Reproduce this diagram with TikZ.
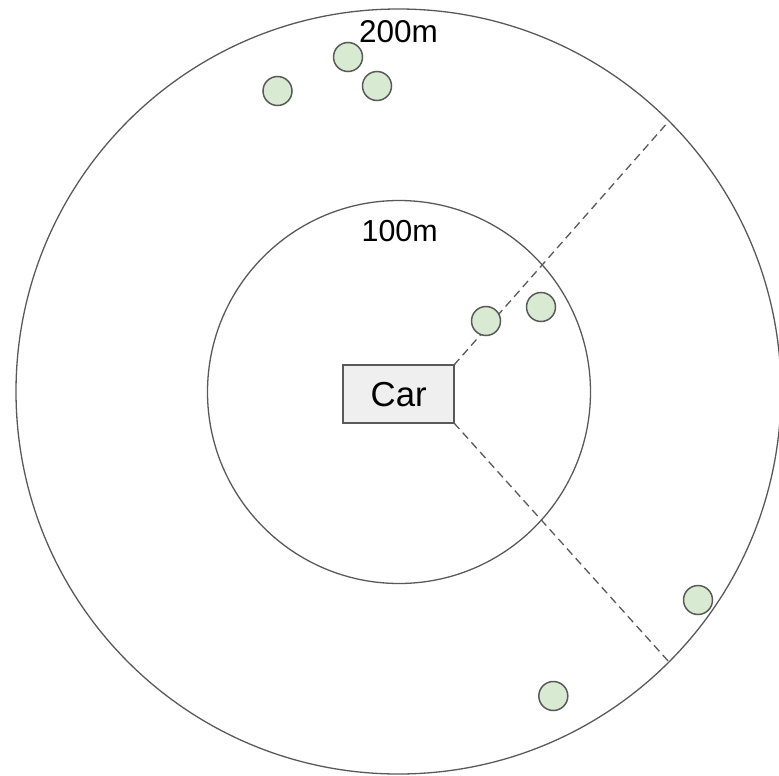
\documentclass[tikz,border=0pt]{standalone}
\usepackage{fontspec}
\setmainfont{Liberation Sans}
\definecolor{strokegray}{HTML}{595959}
\definecolor{dotgreen}{HTML}{D9EAD3}
\definecolor{carfill}{HTML}{EFEFEF}
\begin{document}
\begin{tikzpicture}[x=1pt,y=-1pt,
  ring/.style={circle,draw=strokegray,line width=1.3pt,inner sep=0pt,outer sep=0pt},
  dot/.style={circle,draw=strokegray,fill=dotgreen,line width=1.5pt,minimum size=29pt,inner sep=0pt},
  carbox/.style={draw=strokegray,fill=carfill,line width=1.3pt,minimum width=111pt,minimum height=58pt,inner sep=0pt,outer sep=0pt},
  ray/.style={draw=strokegray,line width=1.3pt,dash pattern=on 8pt off 5pt},
  lbl/.style={anchor=base,inner sep=0pt}]
\useasboundingbox (0,0) rectangle (779,776);
\node[ring,minimum size=765pt] (outer) at (398.5,391.5) {};
\node[ring,minimum size=383pt] (inner) at (399,392) {};
\node[carbox] (car) at (398.5,394) {};
\node[lbl,font=\fontsize{34.7}{40}\selectfont] (cartext) at (398.7,406.5) {Car};
\node[lbl,font=\fontsize{31.5}{36}\selectfont] (l200) at (398.5,43) {200m};
\node[lbl,font=\fontsize{30.4}{35}\selectfont] (l100) at (399.7,241) {100m};
\draw[ray] (car.north east) -- (outer.45);
\draw[ray] (car.south east) -- (outer.-45);
\node[dot] (d1) at (348,57) {};
\node[dot] (d2) at (377,86) {};
\node[dot] (d3) at (277.5,91) {};
\node[dot] (d4) at (486,321) {};
\node[dot] (d5) at (541,307) {};
\node[dot] (d6) at (698,600) {};
\node[dot] (d7) at (553.3,696) {};
\end{tikzpicture}
\end{document}
